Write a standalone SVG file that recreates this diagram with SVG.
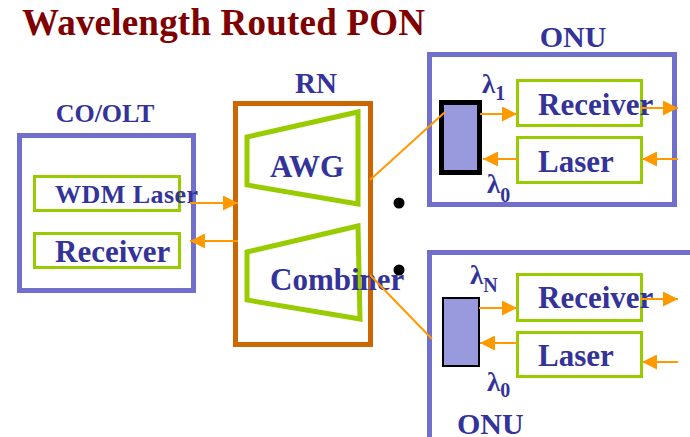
<svg xmlns="http://www.w3.org/2000/svg" width="690" height="437" viewBox="0 0 690 437">
<style>
.t{font-family:"Liberation Serif","Times New Roman",serif;font-weight:bold;fill:#333399}
.box{fill:none;stroke:#7070cc;stroke-width:5}
.g{fill:#fff;stroke:#99cc00;stroke-width:3}
.trap{fill:#fff;stroke:#99cc00;stroke-width:5;stroke-linejoin:miter}
.c{stroke:#ff9900;stroke-width:2;fill:none}
</style>
<defs>
<marker id="ah" viewBox="0 0 10 10" refX="10" refY="5" markerWidth="8.5" markerHeight="7.5" markerUnits="strokeWidth" orient="auto">
<path d="M0,0 L10,5 L0,10 z" fill="#ff9900"/>
</marker>
</defs>
<rect width="690" height="437" fill="#fff"/>
<text x="22" y="35" class="t" style="fill:#800000" font-size="37" textLength="403">Wavelength Routed PON</text>

<g id="co-olt">
<text x="105" y="122" class="t" font-size="26" text-anchor="middle">CO/OLT</text>
<rect x="19.5" y="135.5" width="174" height="155" class="box"/>
<g id="wdm-laser">
<rect x="34.5" y="176.5" width="145" height="34" class="g"/>
<text x="55" y="203" class="t" font-size="26" textLength="143">WDM Laser</text>
</g>
<g id="olt-receiver">
<rect x="34.5" y="233.5" width="145" height="34" class="g"/>
<text x="55" y="262" class="t" font-size="31">Receiver</text>
</g>
</g>

<g id="rn">
<text x="316" y="93" class="t" font-size="29" text-anchor="middle">RN</text>
<rect x="235.5" y="103.5" width="135" height="241" fill="none" stroke="#cc6600" stroke-width="5"/>
<g id="awg">
<polygon points="247,137 358,112 358,204 247,185" class="trap"/>
<polyline points="251,141 251,182" fill="none" stroke="#fff" stroke-width="1"/>
<text x="270" y="177" class="t" font-size="31">AWG</text>
</g>
<g id="combiner">
<polygon points="247,252 358,226 360,319 247,300" class="trap"/>
<polyline points="251,256 251,297" fill="none" stroke="#fff" stroke-width="1"/>
<text x="270" y="290" class="t" font-size="31">Combiner</text>
</g>
</g>

<circle cx="399" cy="203" r="5.5" fill="#000"/>
<circle cx="399" cy="270" r="5.5" fill="#000"/>

<g id="onu1">
<text x="573" y="47" class="t" font-size="30" text-anchor="middle">ONU</text>
<rect x="429.5" y="54.5" width="245" height="150" class="box"/>
<rect x="441.5" y="102.5" width="38" height="70" fill="#9999dd" stroke="#000" stroke-width="5"/>
<text x="482" y="93" class="t" font-size="27">λ<tspan dy="7" font-size="20">1</tspan></text>
<text x="487" y="193" class="t" font-size="27">λ<tspan dy="9" font-size="20">0</tspan></text>
<g id="onu1-receiver">
<rect x="517.5" y="80.5" width="124" height="45" class="g"/>
<text x="538" y="115" class="t" font-size="31">Receiver</text>
</g>
<g id="onu1-laser">
<rect x="517.5" y="137.5" width="124" height="45" class="g"/>
<text x="538" y="172" class="t" font-size="31">Laser</text>
</g>
</g>

<g id="onu2">
<rect x="429.5" y="252.5" width="265" height="200" class="box"/>
<rect x="443" y="298" width="36" height="68" fill="#9999dd" stroke="#000" stroke-width="2"/>
<text x="470" y="284" class="t" font-size="27">λ<tspan dy="8" font-size="20">N</tspan></text>
<text x="487" y="391" class="t" font-size="27">λ<tspan dy="6" font-size="20">0</tspan></text>
<g id="onu2-receiver">
<rect x="517.5" y="274.5" width="124" height="46" class="g"/>
<text x="538" y="308" class="t" font-size="31">Receiver</text>
</g>
<g id="onu2-laser">
<rect x="517.5" y="332.5" width="124" height="44" class="g"/>
<text x="538" y="366" class="t" font-size="31">Laser</text>
</g>
<text x="457" y="434" class="t" font-size="30">ONU</text>
</g>

<g id="connectors">
<line x1="190" y1="203" x2="238" y2="203" class="c" marker-end="url(#ah)"/>
<line x1="238" y1="241" x2="190" y2="241" class="c" marker-end="url(#ah)"/>
<line x1="370" y1="180" x2="445" y2="112" class="c"/>
<line x1="370" y1="275" x2="432" y2="339" class="c"/>
<line x1="480" y1="114" x2="517" y2="114" class="c" marker-end="url(#ah)"/>
<line x1="640" y1="108" x2="678" y2="108" class="c" marker-end="url(#ah)"/>
<line x1="518" y1="159" x2="483" y2="159" class="c" marker-end="url(#ah)"/>
<line x1="678" y1="159" x2="642" y2="159" class="c" marker-end="url(#ah)"/>
<line x1="479" y1="308" x2="517" y2="308" class="c" marker-end="url(#ah)"/>
<line x1="640" y1="299" x2="678" y2="299" class="c" marker-end="url(#ah)"/>
<line x1="517" y1="343" x2="480" y2="343" class="c" marker-end="url(#ah)"/>
<line x1="678" y1="362" x2="642" y2="362" class="c" marker-end="url(#ah)"/>
</g>
</svg>
